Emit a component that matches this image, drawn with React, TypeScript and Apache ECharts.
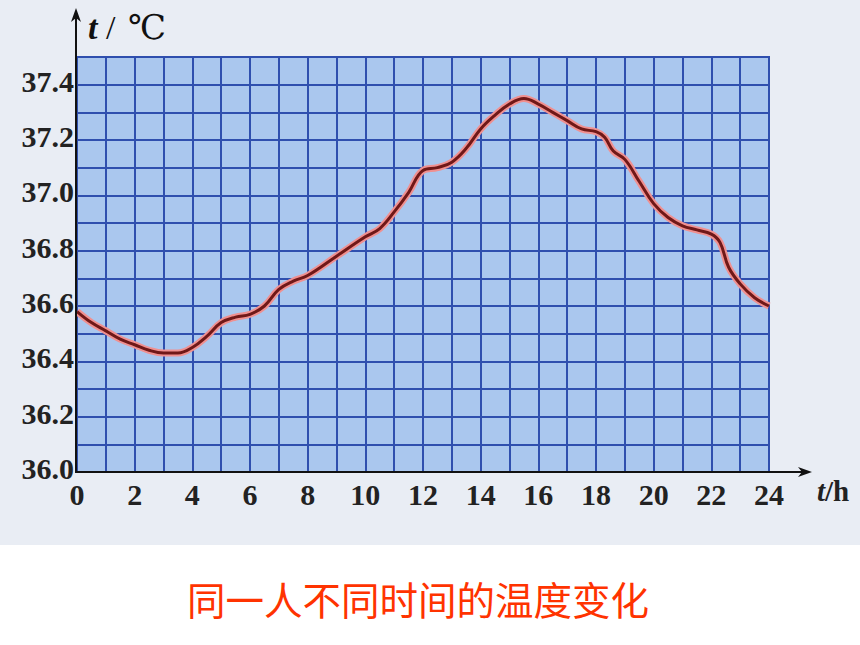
import React, { useEffect, useRef } from "react";
import * as echarts from "echarts";

const hours = [0, 0.5, 1, 1.5, 2, 2.5, 3, 3.5, 4, 4.5, 5, 5.5, 6, 6.5, 7, 7.5, 8, 9, 10, 10.5, 11, 11.5, 12, 12.5, 13, 13.5, 14, 14.5, 15, 15.5, 16, 16.5, 17, 17.5, 18, 18.3, 18.6, 19, 19.5, 20, 20.5, 21, 21.5, 22, 22.3, 22.6, 23, 23.5, 24];
const temps = [36.58, 36.54, 36.51, 36.48, 36.46, 36.44, 36.43, 36.43, 36.45, 36.49, 36.54, 36.56, 36.57, 36.6, 36.66, 36.69, 36.71, 36.78, 36.85, 36.88, 36.94, 37.01, 37.09, 37.1, 37.12, 37.17, 37.24, 37.29, 37.33, 37.35, 37.33, 37.3, 37.27, 37.24, 37.23, 37.21, 37.16, 37.13, 37.05, 36.97, 36.92, 36.89, 36.875, 36.86, 36.83, 36.74, 36.68, 36.63, 36.6];
const yTicks = ["36.0", "36.2", "36.4", "36.6", "36.8", "37.0", "37.2", "37.4"];
const xTicks = ["0", "2", "4", "6", "8", "10", "12", "14", "16", "18", "20", "22", "24"];
const caption = "同一人不同时间的温度变化";

export default function App() {
  const ref = useRef<HTMLDivElement>(null);
  useEffect(() => {
    if (!ref.current) return;
    const chart = echarts.init(ref.current, null, { renderer: "svg" });
    const data = hours.map((h, i) => [h, temps[i]]);
    const serif = "'Liberation Serif', 'DejaVu Serif', serif";
    const yLabelStyle = { fontFamily: serif, fontWeight: "bold", fontSize: 30, color: "#222", lineHeight: 21, padding: [0, 0, 7, 0] };
    chart.setOption({
      animation: false,
      backgroundColor: "#ffffff",
      grid: {
        left: 77, top: 57, right: 91, bottom: 173,
        show: true, backgroundColor: "#aac7ee", borderColor: "#2f4fae", borderWidth: 2,
      },
      xAxis: {
        type: "value", min: 0, max: 24, interval: 1,
        axisLine: { show: false },
        axisTick: { show: false },
        splitLine: { show: true, lineStyle: { color: "#2f4fae", width: 2 } },
        axisLabel: {
          color: "#222", fontFamily: serif, fontWeight: "bold", fontSize: 30, lineHeight: 22, margin: 11,
          formatter: (v: number) => (xTicks.includes(String(v)) ? String(v) : ""),
        },
      },
      yAxis: {
        type: "value", min: 36.0, max: 37.5, interval: 0.1,
        axisLine: { show: false },
        axisTick: { show: false },
        splitLine: { show: true, lineStyle: { color: "#2f4fae", width: 2 } },
        axisLabel: {
          margin: 3,
          formatter: (v: number) => {
            const s = v.toFixed(1);
            return yTicks.includes(s) ? "{y|" + s + "}" : "";
          },
          rich: { y: yLabelStyle },
        },
      },
      series: [
        {
          type: "line", data, smooth: 0.4, symbol: "none", silent: true, z: 3,
          lineStyle: { color: "#f09090", width: 7 },
        },
        {
          type: "line", data, smooth: 0.4, symbol: "none", silent: true, z: 4,
          lineStyle: { color: "#701818", width: 3 },
        },
      ],
      graphic: [
        { type: "rect", z: -10, silent: true, shape: { x: 0, y: 0, width: 860, height: 545 }, style: { fill: "#e9edf4" } },
        { type: "line", z: 10, shape: { x1: 76, y1: 473, x2: 76, y2: 16 }, style: { stroke: "#111", lineWidth: 2 } },
        { type: "polygon", z: 10, shape: { points: [[76, 8], [71, 22], [76, 18], [81, 22]] }, style: { fill: "#111" } },
        { type: "line", z: 10, shape: { x1: 76, y1: 472, x2: 805, y2: 472 }, style: { stroke: "#111", lineWidth: 2 } },
        { type: "polygon", z: 10, shape: { points: [[812, 472], [798, 467], [802, 472], [798, 477]] }, style: { fill: "#111" } },
        {
          type: "text", z: 10, x: 88, y: 10,
          style: {
            text: "{i|t}{n| / }{c|℃}",
            rich: {
              i: { fontFamily: serif, fontStyle: "italic", fontWeight: "bold", fontSize: 34, fill: "#111" },
              n: { fontFamily: serif, fontSize: 34, fill: "#111" },
              c: { fontFamily: serif, fontSize: 34, fill: "#111", padding: [0, 0, 0, 4] },
            },
          },
        },
        {
          type: "text", z: 10, x: 817, y: 476,
          style: {
            text: "{i|t}{n|/h}",
            rich: {
              i: { fontFamily: serif, fontStyle: "italic", fontWeight: "bold", fontSize: 29, fill: "#222" },
              n: { fontFamily: serif, fontWeight: "bold", fontSize: 29, fill: "#222" },
            },
          },
        },
        {
          type: "text", z: 10, x: 418, y: 598,
          style: {
            text: caption, fill: "#ff3300", fontSize: 38.5,
            fontFamily: "'Noto Sans CJK SC', sans-serif", align: "center", verticalAlign: "middle",
          },
        },
      ],
    });
    return () => chart.dispose();
  }, []);
  return <div ref={ref} style={{ position: "fixed", left: 0, top: 0, width: 860, height: 645 }} />;
}
